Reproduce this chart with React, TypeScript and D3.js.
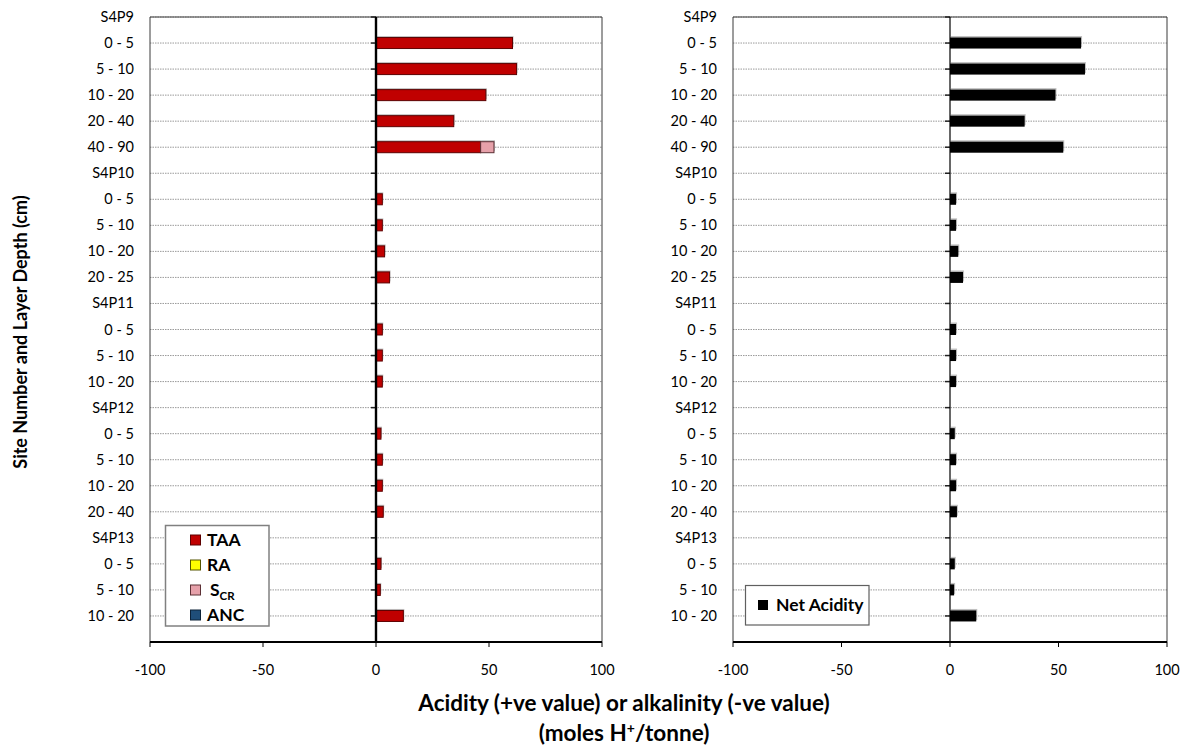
import React from "react";
import * as d3 from "d3";

// Site / layer rows, top to bottom
const rows: string[] = [
  "S4P9", "0 - 5", "5 - 10", "10 - 20", "20 - 40", "40 - 90",
  "S4P10", "0 - 5", "5 - 10", "10 - 20", "20 - 25",
  "S4P11", "0 - 5", "5 - 10", "10 - 20",
  "S4P12", "0 - 5", "5 - 10", "10 - 20", "20 - 40",
  "S4P13", "0 - 5", "5 - 10", "10 - 20",
];

// Acidity components (moles H+/tonne)
const taa: number[] = [0, 60.4, 62.2, 48.6, 34.4, 46.3, 0, 2.8, 2.8, 3.8, 6.0, 0, 2.8, 2.8, 2.8, 0, 2.2, 2.8, 2.8, 3.2, 0, 2.2, 1.9, 12.1];
const ra: number[] = [0, 0, 0, 0, 0, 0, 0, 0, 0, 0, 0, 0, 0, 0, 0, 0, 0, 0, 0, 0, 0, 0, 0, 0];
const scr: number[] = [0, 0, 0, 0, 0, 5.9, 0, 0, 0, 0, 0, 0, 0, 0, 0, 0, 0, 0, 0, 0, 0, 0, 0, 0];
const anc: number[] = [0, 0, 0, 0, 0, 0, 0, 0, 0, 0, 0, 0, 0, 0, 0, 0, 0, 0, 0, 0, 0, 0, 0, 0];
const netAcidity: number[] = [0, 60.4, 62.2, 48.6, 34.4, 52.2, 0, 2.8, 2.8, 3.8, 6.0, 0, 2.8, 2.8, 2.8, 0, 2.2, 2.8, 2.8, 3.2, 0, 2.2, 1.9, 12.1];

const xTicks: number[] = [-100, -50, 0, 50, 100];
const xDomain: [number, number] = [-100, 100];

const componentKeys = ["TAA", "RA", "SCR", "ANC"];
const componentFill: Record<string, string> = {
  TAA: "#C00000",
  RA: "#FFFF00",
  SCR: "#E6A1AA",
  ANC: "#1F4E79",
};
const componentStroke: Record<string, string> = {
  TAA: "#5c0000",
  RA: "#555500",
  SCR: "#5c3035",
  ANC: "#0c2238",
};

const FONT = "Lato, 'Open Sans', sans-serif";

const TOP = 17;
const BOTTOM = 642;
const BAR_H = 11;

const yScale = d3.scaleLinear().domain([0, rows.length]).range([TOP, BOTTOM]);

type PanelProps = {
  x0: number;
  x1: number;
  zeroWidth: number;
  children: (x: d3.ScaleLinear<number, number>) => React.ReactNode;
};

function Panel({ x0, x1, zeroWidth, children }: PanelProps) {
  const x = d3.scaleLinear().domain(xDomain).range([x0, x1]);
  return (
    <g>
      {/* gridlines */}
      {rows.map((_, i) => (
        <line
          key={"g" + i}
          x1={x0}
          x2={x1}
          y1={yScale(i)}
          y2={yScale(i)}
          stroke="#9a9a9a"
          strokeWidth={1}
          strokeDasharray="1.5,1"
        />
      ))}
      {/* plot frame */}
      <path
        d={`M${x0},${BOTTOM} V${TOP} H${x1} V${BOTTOM}`}
        fill="none"
        stroke="#3a3a3a"
        strokeWidth={1}
      />
      {children(x)}
      {/* category axis at zero */}
      {rows.map((_, i) => (
        <line
          key={"t" + i}
          x1={x(0) - 5}
          x2={x(0)}
          y1={yScale(i)}
          y2={yScale(i)}
          stroke="#222"
          strokeWidth={1.5}
        />
      ))}
      <line x1={x(0)} x2={x(0)} y1={TOP} y2={BOTTOM} stroke="#000" strokeWidth={zeroWidth} />
      {/* value axis */}
      <line x1={x0} x2={x1} y1={BOTTOM} y2={BOTTOM} stroke="#000" strokeWidth={2} />
      {xTicks.map((t) => (
        <g key={"x" + t}>
          <line x1={x(t)} x2={x(t)} y1={BOTTOM} y2={BOTTOM + 5} stroke="#000" strokeWidth={1} />
          <text
            x={x(t)}
            y={675}
            textAnchor="middle"
            fontFamily={FONT}
            fontSize={14.5}
            fill="#000"
          >
            {t}
          </text>
        </g>
      ))}
      {/* row labels */}
      {rows.map((r, i) => (
        <text
          key={"l" + i}
          x={x0 - 16}
          y={yScale(i) + 5}
          textAnchor="end"
          fontFamily={FONT}
          fontSize={14.5}
          fill="#000"
        >
          {r}
        </text>
      ))}
    </g>
  );
}

export default function App() {
  const table = rows.map((r, i) => ({
    i,
    TAA: taa[i],
    RA: ra[i],
    SCR: scr[i],
    ANC: -anc[i],
  }));
  const stacked = d3
    .stack<any>()
    .keys(componentKeys)
    .offset(d3.stackOffsetDiverging)(table);

  return (
    <svg width={1192} height={749} style={{ display: "block", position: "absolute", left: 0, top: 0 }}>
      <rect width={1192} height={749} fill="#fff" />

      <Panel x0={150} x1={602} zeroWidth={2.4}>
        {(x) =>
          stacked.map((layer) => (
            <g key={layer.key}>
              {layer.map((d, i) => {
                const a = x(d[0]);
                const b = x(d[1]);
                const w = Math.abs(b - a);
                if (w < 0.01) return null;
                const yc = yScale(i);
                return (
                  <g key={i}>
                    <rect
                      x={Math.min(a, b) + 1}
                      y={yc - BAR_H / 2 - 1.5}
                      width={w}
                      height={BAR_H}
                      fill="#8c8c8c"
                      opacity={0.55}
                    />
                    <rect
                      x={Math.min(a, b)}
                      y={yc - BAR_H / 2}
                      width={w}
                      height={BAR_H}
                      fill={componentFill[layer.key]}
                      stroke={componentStroke[layer.key]}
                      strokeWidth={1}
                    />
                  </g>
                );
              })}
            </g>
          ))
        }
      </Panel>

      <Panel x0={733} x1={1167} zeroWidth={1.2}>
        {(x) =>
          netAcidity.map((v, i) => {
            if (v === 0) return null;
            const a = x(0);
            const b = x(v);
            const yc = yScale(i);
            return (
              <g key={i}>
                <rect
                  x={Math.min(a, b) + 1}
                  y={yc - BAR_H / 2 - 1.5}
                  width={Math.abs(b - a)}
                  height={BAR_H}
                  fill="#8c8c8c"
                  opacity={0.55}
                />
                <rect
                  x={Math.min(a, b)}
                  y={yc - BAR_H / 2}
                  width={Math.abs(b - a)}
                  height={BAR_H}
                  fill="#000"
                />
              </g>
            );
          })
        }
      </Panel>

      {/* component legend */}
      <g>
        <rect x={165.5} y={525.5} width={103.5} height={100.5} fill="#fff" stroke="#808080" strokeWidth={1.5} />
        {componentKeys.map((k, j) => {
          const cy = [540, 565, 590, 615][j];
          return (
            <g key={k}>
              <rect
                x={190.5}
                y={cy - 5}
                width={10}
                height={10}
                fill={componentFill[k]}
                stroke={componentStroke[k]}
                strokeWidth={1}
              />
              {k === "SCR" ? (
                <text x={210} y={cy + 6} fontFamily={FONT} fontWeight={700} fontSize={17.5} fill="#000">
                  S
                  <tspan fontSize={11.5} dy={4}>CR</tspan>
                </text>
              ) : (
                <text x={207} y={cy + 6} fontFamily={FONT} fontWeight={700} fontSize={17.5} fill="#000">
                  {k}
                </text>
              )}
            </g>
          );
        })}
      </g>

      {/* net acidity legend */}
      <g>
        <rect x={745.5} y={585.5} width={123.5} height={39.5} fill="#fff" stroke="#606060" strokeWidth={1.2} />
        <rect x={758} y={600} width={10} height={10} fill="#000" />
        <text x={776} y={611} fontFamily={FONT} fontWeight={700} fontSize={17.5} fill="#000">
          Net Acidity
        </text>
      </g>

      {/* axis titles */}
      <text
        transform="translate(27,332) rotate(-90)"
        textAnchor="middle"
        fontFamily={FONT}
        fontWeight={700}
        fontSize={18}
        fill="#000"
      >
        Site Number and Layer Depth (cm)
      </text>
      <text x={624} y={711} textAnchor="middle" fontFamily={FONT} fontWeight={700} fontSize={22.5} fill="#000">
        Acidity (+ve value) or alkalinity (-ve value)
      </text>
      <text x={624} y={741} textAnchor="middle" fontFamily={FONT} fontWeight={700} fontSize={22.5} fill="#000">
        (moles H
        <tspan fontSize={14} dy={-8}>+</tspan>
        <tspan dy={8}>/tonne)</tspan>
      </text>
    </svg>
  );
}
